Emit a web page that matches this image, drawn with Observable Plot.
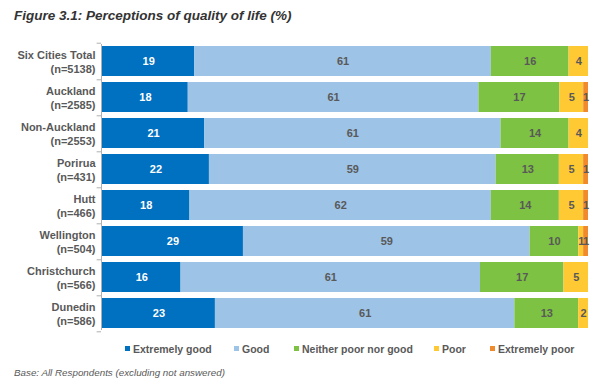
<!DOCTYPE html>
<html>
<head>
<meta charset="utf-8">
<script src="https://cdn.jsdelivr.net/npm/d3@7"></script>
<script src="https://cdn.jsdelivr.net/npm/@observablehq/plot@0.6"></script>
<style>
  body { margin: 0; background: #fff; font-family: "Liberation Sans", Arial, sans-serif; }
  #wrap { position: relative; width: 597px; height: 378px; overflow: hidden; }
  #title { position: absolute; left: 14px; top: 8px; font-size: 13.5px; font-weight: bold; font-style: italic; color: #333; }
  #chart { position: absolute; left: 0; top: 36px; }
  .leg { position: absolute; top: 343px; font-size: 10.5px; font-weight: bold; color: #595959; white-space: nowrap; }
  .leg span.sw { display: inline-block; width: 5px; height: 5px; margin-right: 3px; vertical-align: 2px; }
  #caption { position: absolute; left: 14px; top: 367px; font-size: 9.8px; font-style: italic; color: #595959; }
</style>
</head>
<body>
<div id="wrap">
  <div id="title">Figure 3.1: Perceptions of quality of life (%)</div>
  <div id="chart"></div>
  <div id="legend"></div>
  <div id="caption">Base: All Respondents (excluding not answered)</div>
</div>
<script>
const categories = [
  "Six Cities Total\n(n=5138)",
  "Auckland\n(n=2585)",
  "Non-Auckland\n(n=2553)",
  "Porirua\n(n=431)",
  "Hutt\n(n=466)",
  "Wellington\n(n=504)",
  "Christchurch\n(n=566)",
  "Dunedin\n(n=586)"
];
const seriesNames = ["Extremely good", "Good", "Neither poor nor good", "Poor", "Extremely poor"];
const extremelyGood = [19, 18, 21, 22, 18, 29, 16, 23];
const good          = [61, 61, 61, 59, 62, 59, 61, 61];
const neither       = [16, 17, 14, 13, 14, 10, 17, 13];
const poor          = [4, 5, 4, 5, 5, 1, 5, 2];
const extremelyPoor = [0, 1, 0, 1, 1, 1, 0, 0];
const seriesColors = ["#0070C0", "#9DC3E6", "#7DC242", "#FFC934", "#F08A2C"];
const legendLeft = [125, 234, 294, 434, 490];

const seriesValues = [extremelyGood, good, neither, poor, extremelyPoor];
const data = [];
categories.forEach((c, i) => {
  seriesNames.forEach((s, j) => {
    const v = seriesValues[j][i];
    if (v > 0) data.push({category: c, series: s, value: v});
  });
});

const W = 597, H = 300;
const chart = Plot.plot({
  width: W,
  height: H,
  marginLeft: 102,
  marginRight: 9,
  marginTop: 8,
  marginBottom: 6,
  style: {fontFamily: "Liberation Sans, Arial, sans-serif", background: "transparent"},
  x: {domain: [0, 1], axis: null},
  y: {domain: categories, paddingInner: 0.18, paddingOuter: 0, axis: null},
  color: {domain: seriesNames, range: seriesColors},
  marks: [
    Plot.barX(data, Plot.stackX({
      y: "category", x: "value", fill: "series", order: seriesNames, offset: "normalize"
    })),
    Plot.text(data, Plot.stackX({
      y: "category", x: "value", z: "series", order: seriesNames, offset: "normalize",
      text: d => String(d.value),
      fill: d => d.series === "Extremely good" ? "#ffffff" : "#595959",
      fontWeight: "bold", fontSize: 11
    })),
    Plot.ruleX([0], {stroke: "#b0b0b0", strokeWidth: 1, dx: -1}),
    Plot.ruleY(categories, {y: d => d, x1: -0.009, x2: 0, dx: -1, dy: 18.3, stroke: "#b0b0b0"}),
    Plot.ruleY(categories.slice(0, 1), {y: d => d, x1: -0.009, x2: 0, dx: -1, dy: -18.3, stroke: "#b0b0b0"}),
    Plot.axisY({
      tickSize: 0, tickPadding: 7, fontSize: 11, fontWeight: "bold",
      fill: "#595959", label: null, lineHeight: 1.25
    })
  ]
});
document.getElementById("chart").appendChild(chart);

const legend = document.getElementById("legend");
seriesNames.forEach((s, j) => {
  const d = document.createElement("div");
  d.className = "leg";
  d.style.left = legendLeft[j] + "px";
  d.innerHTML = `<span class="sw" style="background:${seriesColors[j]}"></span>${s}`;
  legend.appendChild(d);
});
</script>
</body>
</html>
